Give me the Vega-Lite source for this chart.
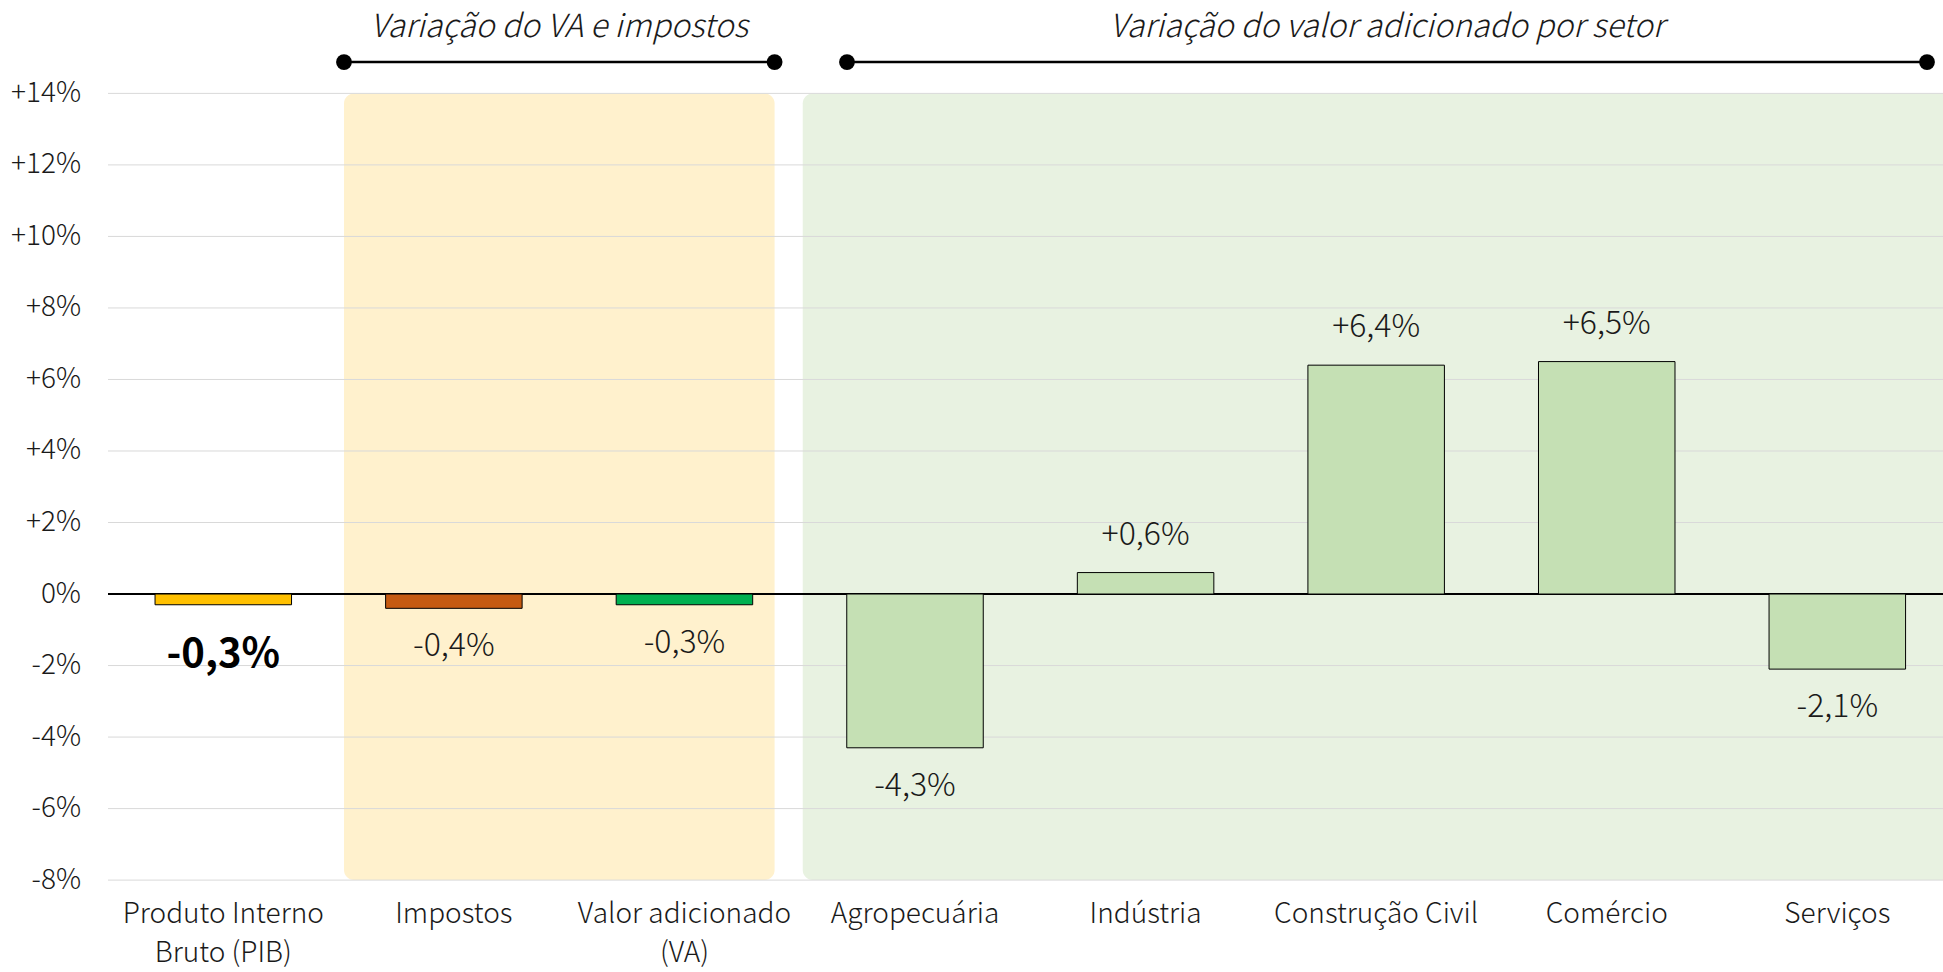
{
  "$schema": "https://vega.github.io/schema/vega-lite/v6.json",
  "width": 1835,
  "height": 786.7,
  "autosize": {"type": "none"},
  "padding": {"left": 108, "top": 93.4, "right": 0, "bottom": 91.9},
  "background": "white",
  "config": {"view": {"stroke": null}, "font": "Noto Sans CJK JP"},
  "datasets": {
    "barras": [
      {"setor": "Produto Interno Bruto (PIB)", "grupo": "PIB", "valor": -0.3},
      {"setor": "Impostos", "grupo": "Impostos", "valor": -0.4},
      {"setor": "Valor adicionado (VA)", "grupo": "VA", "valor": -0.3},
      {"setor": "Agropecuária", "grupo": "Setor", "valor": -4.3},
      {"setor": "Indústria", "grupo": "Setor", "valor": 0.6},
      {"setor": "Construção Civil", "grupo": "Setor", "valor": 6.4},
      {"setor": "Comércio", "grupo": "Setor", "valor": 6.5},
      {"setor": "Serviços", "grupo": "Setor", "valor": -2.1}
    ],
    "fundos": [
      {"ini": 1.0235, "fim": 2.891, "base": -8, "topo": 14, "grupo": "Fundo VA"},
      {"ini": 3.013, "fim": 8.3, "base": -8, "topo": 14, "grupo": "Fundo setores"}
    ],
    "cabecalhos": [
      {"ini": 1.0235, "fim": 2.891, "meio": 1.957, "linha": 14.876, "texto_y": 15.585, "titulo": "Variação do VA e impostos"},
      {"ini": 3.205, "fim": 7.889, "meio": 5.547, "linha": 14.876, "texto_y": 15.585, "titulo": "Variação do valor adicionado por setor"}
    ],
    "pontas": [
      {"pos": 1.0235, "nivel": 14.876},
      {"pos": 2.891, "nivel": 14.876},
      {"pos": 3.205, "nivel": 14.876},
      {"pos": 7.889, "nivel": 14.876}
    ],
    "grade": [
      {"v": -8}, {"v": -6}, {"v": -4}, {"v": -2}, {"v": 2}, {"v": 4},
      {"v": 6}, {"v": 8}, {"v": 10}, {"v": 12}, {"v": 14}
    ]
  },
  "resolve": {"scale": {"x": "independent"}, "axis": {"x": "independent", "y": "independent"}},
  "layer": [
    {
      "layer": [
        {
          "data": {"name": "fundos"},
          "mark": {"type": "rect", "cornerRadius": 10},
          "encoding": {
            "x": {"field": "ini", "type": "quantitative", "scale": {"domain": [0, 8], "range": [0, 1844.6], "nice": false, "zero": false}, "axis": null},
            "x2": {"field": "fim"},
            "y": {"field": "base", "type": "quantitative", "axis": null},
            "y2": {"field": "topo"},
            "color": {
              "field": "grupo", "type": "nominal", "legend": null,
              "scale": {"domain": ["PIB", "Impostos", "VA", "Setor", "Fundo VA", "Fundo setores"], "range": ["#FFC000", "#C55A11", "#00B050", "#C5E0B4", "#FFF1CD", "#E8F2E1"]}
            }
          }
        },
        {
          "data": {"name": "grade"},
          "mark": {"type": "rule", "color": "#D9D9D9", "strokeWidth": 1},
          "encoding": {"y": {"field": "v", "type": "quantitative", "axis": null}}
        },
        {
          "data": {"name": "cabecalhos"},
          "mark": {"type": "rule", "color": "black", "strokeWidth": 2.5},
          "encoding": {
            "x": {"field": "ini", "type": "quantitative"},
            "x2": {"field": "fim"},
            "y": {"field": "linha", "type": "quantitative", "axis": null}
          }
        },
        {
          "data": {"name": "pontas"},
          "mark": {"type": "circle", "color": "black", "opacity": 1, "size": 250},
          "encoding": {
            "x": {"field": "pos", "type": "quantitative"},
            "y": {"field": "nivel", "type": "quantitative", "axis": null}
          }
        },
        {
          "data": {"name": "cabecalhos"},
          "mark": {"type": "text", "fontStyle": "italic", "fontSize": 32, "fontWeight": 300, "color": "#1a1a1a", "baseline": "alphabetic", "align": "center"},
          "encoding": {
            "x": {"field": "meio", "type": "quantitative"},
            "y": {"field": "texto_y", "type": "quantitative", "axis": null},
            "text": {"field": "titulo"}
          }
        }
      ]
    },
    {
      "data": {"name": "barras"},
      "transform": [
        {"calculate": "(datum.valor > 0 ? '+' : '-') + replace(format(abs(datum.valor), '.1f'), '.', ',') + '%'", "as": "rotulo"}
      ],
      "encoding": {
        "x": {
          "field": "setor", "type": "nominal", "sort": null,
          "scale": {"range": [0, 1844.6], "paddingInner": 0.408, "paddingOuter": 0.204},
          "axis": {
            "orient": "bottom",
            "title": null, "domain": false, "ticks": false, "labelAngle": 0,
            "labelFontSize": 28, "labelFontWeight": 300, "labelColor": "#1a1a1a", "labelPadding": 20,
            "labelLineHeight": 39, "labelBaseline": "top", "labelLimit": 0,
            "labelExpr": "datum.label == 'Produto Interno Bruto (PIB)' ? ['Produto Interno', 'Bruto (PIB)'] : datum.label == 'Valor adicionado (VA)' ? ['Valor adicionado', '(VA)'] : datum.label"
          }
        },
        "y": {
          "field": "valor", "type": "quantitative",
          "scale": {"domain": [-8, 14], "nice": false, "zero": false},
          "axis": {
            "orient": "left",
            "title": null, "values": [-8, -6, -4, -2, 0, 2, 4, 6, 8, 10, 12, 14],
            "grid": false, "domain": false, "ticks": false, "labelPadding": 27.5,
            "labelFontSize": 28, "labelFontWeight": 300, "labelColor": "#1a1a1a",
            "labelExpr": "datum.value > 0 ? '+' + datum.value + '%' : datum.value + '%'"
          }
        }
      },
      "layer": [
        {
          "mark": {"type": "rule", "color": "black", "strokeWidth": 1.2},
          "encoding": {"x": null, "y": {"datum": 0, "type": "quantitative"}}
        },
        {
          "mark": {"type": "bar", "stroke": "black", "strokeWidth": 1},
          "encoding": {
            "color": {"field": "grupo", "type": "nominal", "legend": null}
          }
        },
        {
          "transform": [{"filter": "datum.grupo == 'PIB'"}],
          "mark": {"type": "text", "fontSize": 40, "fontWeight": "bold", "baseline": "middle", "dy": 50, "color": "black"},
          "encoding": {"text": {"field": "rotulo"}}
        },
        {
          "transform": [{"filter": "datum.valor > 0"}],
          "mark": {"type": "text", "fontSize": 32, "fontWeight": 300, "baseline": "middle", "dy": -38, "color": "#1a1a1a"},
          "encoding": {"text": {"field": "rotulo"}}
        },
        {
          "transform": [{"filter": "datum.valor < 0 && datum.grupo != 'PIB'"}],
          "mark": {"type": "text", "fontSize": 32, "fontWeight": 300, "baseline": "middle", "dy": 38, "color": "#1a1a1a"},
          "encoding": {"text": {"field": "rotulo"}}
        }
      ]
    }
  ]
}
